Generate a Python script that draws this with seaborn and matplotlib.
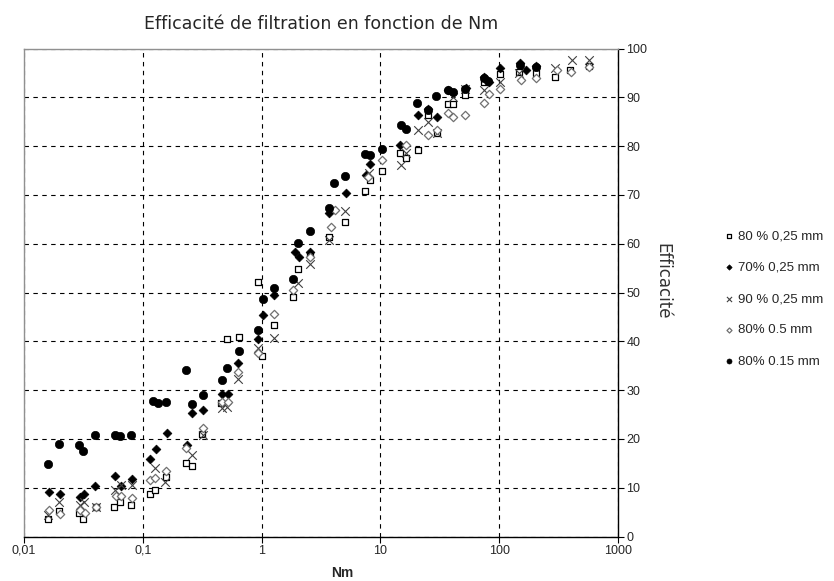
import matplotlib
matplotlib.use("Agg")
import matplotlib.pyplot as plt
import seaborn as sns
import pandas as pd
from matplotlib.ticker import FixedLocator, NullLocator

# 80 % 0,25 mm (open squares)
nm_80_025 = [0.016, 0.0198, 0.029, 0.0316, 0.04, 0.057, 0.064, 0.079, 0.115, 0.127, 0.157,
             0.231, 0.258, 0.314, 0.455, 0.51, 0.64, 0.94, 1.016, 1.26, 1.85, 2.04, 2.56,
             3.72, 5.05, 7.44, 8.2, 10.3, 14.7, 16.5, 20.9, 25.4, 29.8, 37, 41, 52, 74, 102,
             146, 205, 297, 396, 575]
eff_80_025 = [3.6, 5.3, 4.9, 3.6, 6.0, 6.0, 7.1, 6.5, 8.7, 9.5, 12.1,
              15.0, 14.5, 21.1, 27.4, 40.5, 40.9, 52.2, 37.0, 43.3, 49.1, 54.8, 57.7,
              61.4, 64.5, 70.8, 73.1, 75.0, 78.6, 77.5, 79.3, 86.4, 82.6, 88.6, 88.6, 90.5, 93.2, 94.7,
              95.1, 95.0, 94.2, 95.6, 96.5]

# 70% 0,25 mm (filled diamonds)
nm_70_025 = [0.0163, 0.0201, 0.0296, 0.0322, 0.0396, 0.058, 0.0655, 0.081, 0.115, 0.129, 0.159,
             0.237, 0.258, 0.324, 0.462, 0.525, 0.638, 0.94, 1.02, 1.26, 1.91, 2.08, 2.56,
             3.72, 5.1, 7.6, 8.2, 14.7, 20.9, 25.4, 29.8, 37, 53, 74, 82, 102, 150, 169, 205]
eff_70_025 = [9.2, 8.7, 8.0, 8.7, 10.4, 12.3, 10.4, 11.7, 15.8, 17.9, 21.3,
              18.75, 25.4, 25.9, 29.3, 29.3, 35.6, 40.4, 45.4, 49.5, 58.2, 57.3, 58.4,
              66.2, 70.3, 74.1, 76.3, 80.2, 86.4, 87.7, 86.0, 91.4, 92.0, 94.2, 93.2, 96.1, 97.0, 95.6, 96.5]

# 90 % 0,25 mm (crosses)
nm_90_025 = [0.016, 0.0198, 0.0296, 0.032, 0.04, 0.058, 0.0655, 0.081, 0.127, 0.154,
             0.258, 0.324, 0.46, 0.515, 0.638, 0.94, 1.26, 2.04, 2.56,
             3.72, 5.05, 8.0, 14.9, 16.5, 20.9, 25.4, 29.8, 41, 52, 74, 102, 146, 297, 409, 575]
eff_90_025 = [4.5, 7.1, 6.5, 7.1, 6.1, 9.5, 10.6, 10.6, 14.0, 11.2,
              16.7, 20.8, 26.3, 26.6, 32.2, 38.6, 40.6, 51.9, 55.8,
              60.8, 66.6, 74.5, 76.1, 78.5, 83.3, 85.0, 82.7, 90.1, 91.8, 91.5, 93.2, 95.0, 96.0, 97.6, 97.6]

# 80% 0.5 mm (open diamonds)
nm_80_05 = [0.0163, 0.0201, 0.0296, 0.0325, 0.04, 0.059, 0.0655, 0.081, 0.115, 0.127, 0.157,
            0.231, 0.32, 0.46, 0.525, 0.638, 0.94, 1.26, 1.85, 2.56,
            3.85, 4.15, 7.9, 10.3, 16.5, 25.4, 29.8, 37, 41, 52, 74, 82, 102, 152, 205, 305, 400, 575]
eff_80_05 = [5.4, 4.7, 5.5, 4.9, 6.0, 8.2, 8.4, 7.8, 11.6, 11.9, 13.5,
             18.1, 22.2, 27.5, 27.5, 33.8, 37.7, 45.6, 50.5, 57.3,
             63.4, 66.9, 73.7, 77.2, 80.2, 82.3, 83.3, 86.7, 85.9, 86.4, 88.9, 90.6, 91.6, 93.5, 93.9, 95.6, 95.2, 96.3]

# 80% 0.15 mm (filled circles)
nm_80_015 = [0.016, 0.0198, 0.029, 0.0316, 0.0396, 0.058, 0.064, 0.079, 0.123, 0.134, 0.157,
             0.231, 0.258, 0.32, 0.46, 0.515, 0.64, 0.94, 1.02, 1.26, 1.85, 2.04, 2.56,
             3.72, 4.1, 5.05, 7.4, 8.1, 10.3, 14.9, 16.5, 20.3, 25.4, 29.5, 37.4, 41.2, 52,
             74, 81, 150, 205]
eff_80_015 = [14.9, 18.9, 18.75, 17.5, 20.8, 20.8, 20.6, 20.8, 27.8, 27.3, 27.6,
              34.1, 27.2, 29.0, 32.1, 34.5, 38.0, 42.3, 48.6, 50.9, 52.7, 60.1, 62.7,
              67.3, 72.4, 73.9, 78.4, 78.2, 79.5, 84.3, 83.6, 88.8, 87.5, 90.3, 91.4, 91.1, 91.8,
              93.9, 93.3, 96.6, 96.3]

x_ticks = [0.01, 0.1, 1, 10, 100, 1000]
x_labels = ["0,01", "0,1", "1", "10", "100", "1000"]
y_ticks = list(range(0, 101, 10))

sns.set_style("white")
plt.rcParams["font.family"] = ["Liberation Sans", "DejaVu Sans"]

fig = plt.figure(figsize=(8.34, 5.81), dpi=100)
ax = fig.add_axes([24 / 834, 44.5 / 581, 594 / 834, 488 / 581])

series = [
    ("80 % 0,25 mm", nm_80_025, eff_80_025, dict(marker="s", s=22, facecolor="white", edgecolor="black", linewidth=0.9)),
    ("70% 0,25 mm", nm_70_025, eff_70_025, dict(marker="D", s=20, facecolor="black", edgecolor="black", linewidth=0.5)),
    ("90 % 0,25 mm", nm_90_025, eff_90_025, dict(marker="x", s=38, color="#404040", linewidth=0.8)),
    ("80% 0.5 mm", nm_80_05, eff_80_05, dict(marker="D", s=18, facecolor="white", edgecolor="#707070", linewidth=0.9)),
    ("80% 0.15 mm", nm_80_015, eff_80_015, dict(marker="o", s=36, facecolor="black", edgecolor="black", linewidth=0.5)),
]

for name, xs, ys, kw in series:
    df = pd.DataFrame({"Nm": xs, "Efficacite": ys})
    sns.scatterplot(data=df, x="Nm", y="Efficacite", ax=ax, label=name, zorder=3, **kw)

ax.set_xscale("log")
ax.set_xlim(0.01, 1000)
ax.set_ylim(0, 100)
ax.xaxis.set_major_locator(FixedLocator(x_ticks))
ax.xaxis.set_minor_locator(NullLocator())
ax.set_xticklabels(x_labels)
ax.set_yticks(y_ticks)

ax.yaxis.tick_right()
ax.yaxis.set_label_position("right")
ax.tick_params(axis="both", direction="out", length=4, width=0.8, color="black",
               labelsize=9, pad=2)
ax.tick_params(axis="y", right=True, left=False)
ax.tick_params(axis="x", bottom=True)

ax.grid(True, color="black", linestyle=(0, (4, 4)), linewidth=0.8)
ax.set_axisbelow(True)

for side in ["left", "top"]:
    ax.spines[side].set_color("#909090")
    ax.spines[side].set_linewidth(1.0)
for side in ["right", "bottom"]:
    ax.spines[side].set_color("black")
    ax.spines[side].set_linewidth(1.0)

ax.set_xlabel("Nm", fontsize=10, fontweight="bold", labelpad=4)
ax.xaxis.set_label_coords(0.535, -0.06)
ax.set_ylabel("Efficacité", fontsize=12, family="DejaVu Sans", color="#333333",
              rotation=-90, ha="center", va="bottom")
ax.yaxis.set_label_coords(1.059, 0.524)
ax.set_title("Efficacité de filtration en fonction de Nm", fontsize=12.5,
             family="DejaVu Sans", pad=14)

ax.legend(loc="center left", bbox_to_anchor=(726 / 834, 1 - 299 / 581),
          bbox_transform=fig.transFigure, frameon=False, fontsize=9.5,
          handlelength=0.5, handletextpad=0.4, labelspacing=1.45,
          markerscale=0.6, borderpad=0, borderaxespad=0)

fig.savefig("out.png", dpi=100)
